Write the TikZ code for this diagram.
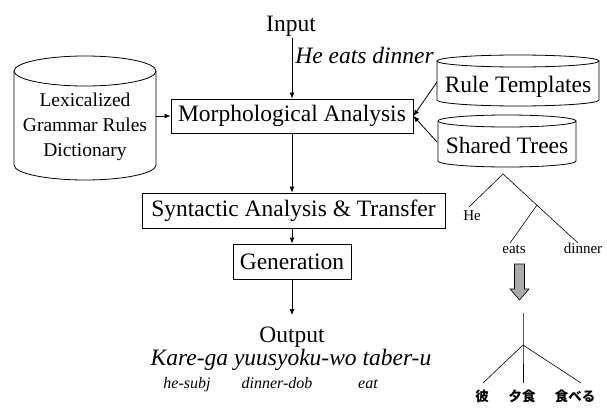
\documentclass[tikz,border=0pt]{standalone}
\usepackage{fontspec}
\setmainfont{Liberation Serif}
\newfontfamily\jpfont{Noto Sans CJK JP}
\usetikzlibrary{arrows.meta}
\begin{document}
\begin{tikzpicture}[x=1pt,y=-1pt,
  line width=0.8pt,
  big/.style={inner sep=0pt,font=\fontsize{23.5}{27}\selectfont},
  procbox/.style={draw,inner sep=0pt,font=\fontsize{23.5}{27}\selectfont},
  arr/.style={-{Latex[length=6pt,width=5pt]}},
  small/.style={inner sep=0pt,font=\fontsize{16}{19}\selectfont\itshape},
  treelbl/.style={inner sep=0pt,font=\fontsize{15}{18}\selectfont},
  jp/.style={inner sep=0pt,font=\fontsize{13.5}{16}\jpfont\bfseries},
  tline/.style={line width=0.6pt}]
\useasboundingbox (0,0) rectangle (607,407);

% cylinders
\draw (14,71) -- (14,165) arc[start angle=180,end angle=360,x radius=71pt,y radius=15pt] -- (156,71);
\draw (85,71) ellipse [x radius=71pt,y radius=15pt];
\draw (437,61) -- (437,100) arc[start angle=180,end angle=360,x radius=81pt,y radius=6pt] -- (599,61);
\draw (518,61) ellipse [x radius=81pt,y radius=6pt];
\draw (438,121) -- (438,161) arc[start angle=180,end angle=360,x radius=69pt,y radius=6pt] -- (576,121);
\draw (507,121) ellipse [x radius=69pt,y radius=6pt];

\node[inner sep=0pt,align=center,font=\fontsize{19.5}{25}\selectfont] (lex) at (85,127) {Lexicalized\\Grammar Rules\\Dictionary};
\node[big,anchor=base] (rt) at (518,92) {Rule Templates};
\node[big,anchor=base] (st) at (507,153) {Shared Trees};
\coordinate (lexr) at (156,116);
\coordinate (rtl) at (437,82);
\coordinate (stl) at (437,142);

% main column
\node[big,anchor=base] (input) at (291,31) {Input};
\node[big,anchor=base west,font=\fontsize{23.5}{27}\selectfont\itshape] (he) at (295,63) {He eats dinner};
\node[procbox,minimum width=242pt,minimum height=34pt] (morph) at (292,116) {Morphological Analysis};
\node[procbox,minimum width=303pt,minimum height=35pt] (syn) at (293.5,210.5) {Syntactic Analysis \& Transfer};
\node[procbox,minimum width=118pt,minimum height=35pt] (gen) at (292,261.5) {Generation};
\node[big,anchor=base] (out) at (292,342) {Output};
\node[big,anchor=base,font=\fontsize{23.5}{27}\selectfont\itshape] (kare) at (291,365) {Kare-ga yuusyoku-wo taber-u};
\node[small,anchor=base] (g1) at (187,388) {he-subj};
\node[small,anchor=base] (g2) at (277,388) {dinner-dob};
\node[small,anchor=base] (g3) at (368,388) {eat};

\coordinate (inbot) at (292,38);
\coordinate (outtop) at (292,315);
\draw[arr] (inbot) -- (morph.north -| inbot);
\draw[arr] (morph.south -| inbot) -- (syn.north -| inbot);
\draw[arr] (syn.south -| inbot) -- (gen.north -| inbot);
\draw[arr] (gen.south -| inbot) -- (outtop);
\draw[arr] (lexr) -- (morph.west);
\draw[arr] (rtl) -- (morph.east);
\draw[arr] (stl) -- (morph.east);

% English tree
\coordinate (apex) at (503,174);
\coordinate (heend) at (469,207);
\coordinate (mid) at (537,205);
\coordinate (eatsend) at (510,243);
\coordinate (dinend) at (578,243);
\draw[tline] (heend) -- (apex) -- (dinend);
\draw[tline] (mid) -- (eatsend);
\node[treelbl,anchor=base] (lhe) at (472,220) {He};
\node[treelbl,anchor=base] (leats) at (514,253) {eats};
\node[treelbl,anchor=base] (ldin) at (583,253) {dinner};

% gray arrow
\draw[fill=black!33,line width=0.6pt] (514.5,264) -- (524.5,264) -- (524.5,289) -- (529,289) -- (519.5,300) -- (510,289) -- (514.5,289) -- cycle;

% Japanese tree
\coordinate (jtop) at (523,313);
\coordinate (jn) at (523,345);
\coordinate (j1) at (483,383);
\coordinate (j2) at (523,383);
\coordinate (j3) at (581,383);
\draw[tline] (jtop) -- (jn) -- (j2);
\draw[tline] (j1) -- (jn) -- (j3);
\node[jp] (k1) at (482,396) {彼};
\node[jp] (k2) at (522,396) {夕食};
\node[jp] (k3) at (575,396) {食べる};
\end{tikzpicture}
\end{document}
